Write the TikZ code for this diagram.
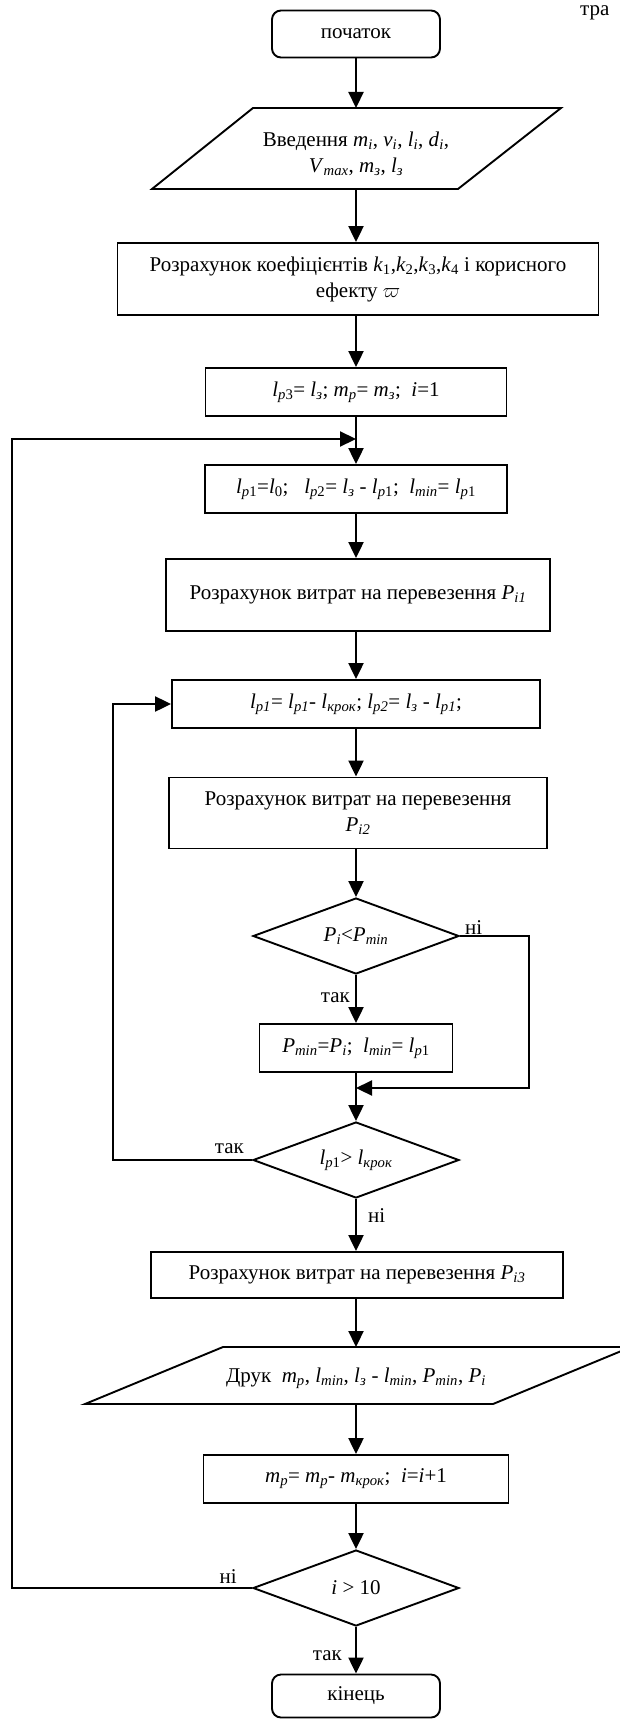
\documentclass[tikz,border=0pt]{standalone}
\usepackage{fontspec}
\setmainfont{Liberation Serif}
\usepackage{tikz}
\usetikzlibrary{arrows.meta,shapes.geometric}
\newcommand{\iv}[2]{\textit{#1}\textsubscript{\textit{#2}}}

\begin{document}
\begin{tikzpicture}[x=1pt,y=-1pt,>={Triangle[length=16pt,width=15pt]},
  every node/.style={font=\fontsize{21}{26}\selectfont},
  proc/.style={draw,line width=1.9pt,inner sep=2pt,align=center,minimum height=48},
  term/.style={proc,rounded corners=9pt,minimum width=168,minimum height=47},
  cond/.style={diamond,draw,line width=1.9pt,inner sep=0pt,aspect=2.7,minimum width=206,minimum height=76},
  flow/.style={->,line width=2.2pt}]
  \useasboundingbox (0,0) rectangle (619,1720);
  % Kopf (abgeschnitten)
  \node[anchor=base west,inner sep=0pt] (tr) at (580,16) {тра};
  % Start + Eingabe
  \node[term] (start) at (356,34) {початок};
  \draw[line width=1.9pt] (253,108) -- (561,108) -- (458,189) -- (152,189) -- cycle;
  \coordinate (in-n) at (356,108);
  \coordinate (in-s) at (356,189);
  \node[align=center] (in) at (356,154) {Введення \iv{m}{i}, \iv{v}{i}, \iv{l}{i}, \iv{d}{i},\\ \iv{V}{max}, \iv{m}{з}, \iv{l}{з}};
  % Berechnungsbloecke
  \node[proc,minimum width=481,minimum height=72] (coef) at (358,279) {Розрахунок коефіцієнтів \textit{k}\textsubscript{1},\textit{k}\textsubscript{2},\textit{k}\textsubscript{3},\textit{k}\textsubscript{4} і корисного\\ ефекту $\varpi$};
  \node[proc,minimum width=301] (init) at (356,392) {\textit{l}\textsubscript{\textit{p}3}= \iv{l}{з}; \iv{m}{p}= \iv{m}{з};~ \textit{i}=1};
  \coordinate (j1) at (356,439);
  \node[proc,minimum width=302] (lp) at (356,489) {\textit{l}\textsubscript{\textit{p}1}=\textit{l}\textsubscript{0};~~ \textit{l}\textsubscript{\textit{p}2}= \iv{l}{з} - \textit{l}\textsubscript{\textit{p}1};~ \iv{l}{min}= \textit{l}\textsubscript{\textit{p}1}};
  \node[proc,minimum width=384,minimum height=72] (p1) at (358,595) {Розрахунок витрат на перевезення \iv{P}{i1}};
  \node[proc,minimum width=368] (stp) at (356,704) {\iv{l}{p1}= \iv{l}{p1}- \iv{l}{крок}; \iv{l}{p2}= \iv{l}{з} - \iv{l}{p1};};
  \node[proc,minimum width=378,minimum height=71] (p2) at (358,813) {Розрахунок витрат на перевезення\\ \iv{P}{i2}};
  % innere Schleife
  \node[cond] (c1) at (356,936) {\iv{P}{i}<\iv{P}{min}};
  \node[proc,minimum width=193] (pmin) at (356,1048) {\iv{P}{min}=\iv{P}{i};~ \iv{l}{min}= \textit{l}\textsubscript{\textit{p}1}};
  \coordinate (j2) at (356,1088);
  \node[cond] (c2) at (356,1160) {\textit{l}\textsubscript{\textit{p}1}> \iv{l}{крок}};
  \node[proc,minimum width=412,minimum height=46] (p3) at (357,1275) {Розрахунок витрат на перевезення \iv{P}{i3}};
  % Ausgabe
  \draw[line width=1.9pt] (223,1347) -- (631,1347) -- (493,1404) -- (85,1404) -- cycle;
  \coordinate (pr-n) at (356,1347);
  \coordinate (pr-s) at (356,1404);
  \node (pr) at (356,1378) {Друк~ \iv{m}{p}, \iv{l}{min}, \iv{l}{з} - \iv{l}{min}, \iv{P}{min}, \iv{P}{i}};
  \node[proc,minimum width=305] (mp) at (356,1479) {\iv{m}{p}= \iv{m}{p}- \iv{m}{крок};~ \textit{i}=\textit{i}+1};
  \node[cond] (c3) at (356,1588) {\textit{i} > 10};
  \node[term,minimum height=43] (stop) at (356,1696) {кінець};
  % Pfeile
  \draw[flow] (start) -- (in-n);
  \draw[flow] (in-s) -- (coef.north -| in-s);
  \draw[flow] (coef.south -| in-s) -- (init);
  \draw[flow] (init) -- (lp);
  \draw[flow] (lp) -- (p1.north -| lp);
  \draw[flow] (p1.south -| lp) -- (stp);
  \draw[flow] (stp) -- (p2.north -| stp);
  \draw[flow] (p2.south -| stp) -- (c1);
  \draw[flow] (c1) -- (pmin);
  \draw[flow] (pmin) -- (c2);
  \draw[flow] (c2) -- (p3.north -| c2);
  \draw[flow] (p3.south -| c2) -- (pr-n);
  \draw[flow] (pr-s) -- (mp);
  \draw[flow] (mp) -- (c3);
  \draw[flow] (c3) -- (stop);
  % Ruecksprungpfade
  \draw[flow] (c1.east) -- ++(69,0) |- (j2);
  \draw[flow] (c2.west) -- ++(-139,0) |- (stp.west);
  \draw[flow] (c3.west) -- ++(-240,0) |- (j1);
  % Beschriftung
  \node[anchor=base west,inner sep=0pt] (n1) at (465,934) {ні};
  \node[anchor=base east,inner sep=0pt] (y1) at (350,1002) {так};
  \node[anchor=base east,inner sep=0pt] (y2) at (244,1153) {так};
  \node[anchor=base west,inner sep=0pt] (n2) at (368,1222) {ні};
  \node[anchor=base east,inner sep=0pt] (n3) at (237,1583) {ні};
  \node[anchor=base east,inner sep=0pt] (y3) at (342,1660) {так};
\end{tikzpicture}
\end{document}
